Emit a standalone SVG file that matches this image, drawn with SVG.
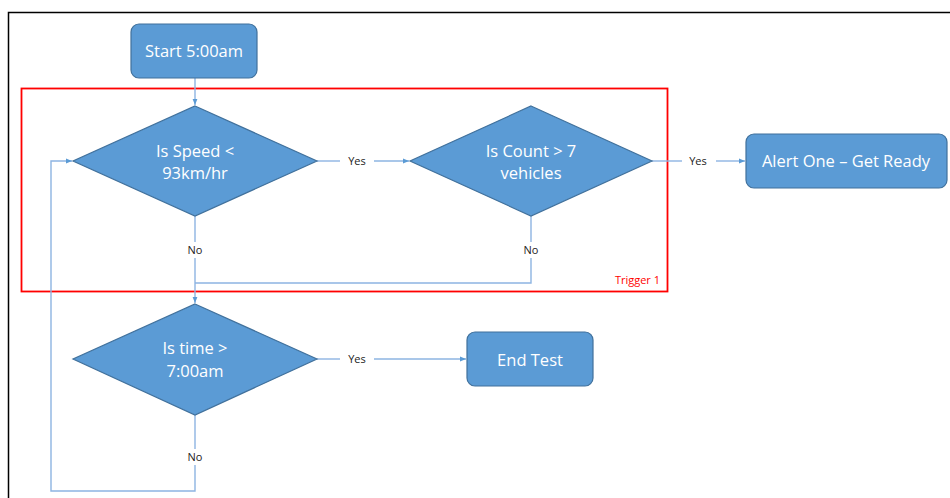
<svg xmlns="http://www.w3.org/2000/svg" width="950" height="498" viewBox="0 0 950 498">
<defs>
<style>
.node{fill:#5b9bd5;stroke:#41719c;stroke-width:1.2}
.nt{fill:#ffffff;font-family:"Open Sans","Liberation Sans",sans-serif;font-size:16.5px;text-anchor:middle}
.conn{fill:none;stroke:#8db4e2;stroke-width:1.4}
.lbl{fill:#222222;font-family:"Open Sans","Liberation Sans",sans-serif;font-size:11px;text-anchor:middle}
</style>
<marker id="arr" viewBox="0 0 10 10" refX="10" refY="5" markerWidth="6" markerHeight="6" markerUnits="userSpaceOnUse" orient="auto">
<path d="M0,1 L10,5 L0,9 z" fill="#5b9bd5"/>
</marker>
</defs>
<rect x="0" y="0" width="950" height="498" fill="#ffffff"/>
<path d="M8.5,498 V12.5 H950" fill="none" stroke="#000000" stroke-width="1.5"/>
<g id="trigger1">
<rect x="21.5" y="88.5" width="646" height="203" fill="none" stroke="#ff0000" stroke-width="1.8"/>
<text x="660" y="284" fill="#ff0000" font-family="'Open Sans','Liberation Sans',sans-serif" font-size="11px" text-anchor="end">Trigger 1</text>
</g>
<g id="connectors">
<path class="conn" d="M195,78 V105" marker-end="url(#arr)"/>
<path class="conn" d="M317,161 H340"/>
<path class="conn" d="M374,161 H409" marker-end="url(#arr)"/>
<text class="lbl" x="357" y="165">Yes</text>
<path class="conn" d="M652,161 H682"/>
<path class="conn" d="M716,161 H745" marker-end="url(#arr)"/>
<text class="lbl" x="698" y="165">Yes</text>
<path class="conn" d="M195,216 V242"/>
<path class="conn" d="M195,258 V303" marker-end="url(#arr)"/>
<text class="lbl" x="195" y="254">No</text>
<path class="conn" d="M531,216 V242"/>
<path class="conn" d="M531,258 V283 H195"/>
<text class="lbl" x="531" y="254">No</text>
<path class="conn" d="M317,359 H340"/>
<path class="conn" d="M374,359 H466" marker-end="url(#arr)"/>
<text class="lbl" x="357" y="363">Yes</text>
<path class="conn" d="M195,415 V449"/>
<path class="conn" d="M195,465 V491 H51 V161 H72" marker-end="url(#arr)"/>
<text class="lbl" x="195" y="461">No</text>
</g>
<g id="start">
<rect class="node" x="131" y="24" width="126" height="54" rx="8"/>
<text class="nt" x="194" y="57">Start 5:00am</text>
</g>
<g id="speed">
<polygon class="node" points="195,106 317,161 195,216 73,161"/>
<text class="nt" x="195" y="157">Is Speed &lt;</text>
<text class="nt" x="195" y="179">93km/hr</text>
</g>
<g id="count">
<polygon class="node" points="531,106 652,161 531,216 410,161"/>
<text class="nt" x="531" y="157">Is Count &gt; 7</text>
<text class="nt" x="531" y="179">vehicles</text>
</g>
<g id="alert">
<rect class="node" x="746" y="134" width="201" height="54" rx="8"/>
<text class="nt" x="846" y="167">Alert One – Get Ready</text>
</g>
<g id="time">
<polygon class="node" points="195,304 317,359 195,415 73,359"/>
<text class="nt" x="195" y="354">Is time &gt;</text>
<text class="nt" x="195" y="377">7:00am</text>
</g>
<g id="end">
<rect class="node" x="467" y="332" width="126" height="54" rx="8"/>
<text class="nt" x="530" y="366">End Test</text>
</g>
</svg>
